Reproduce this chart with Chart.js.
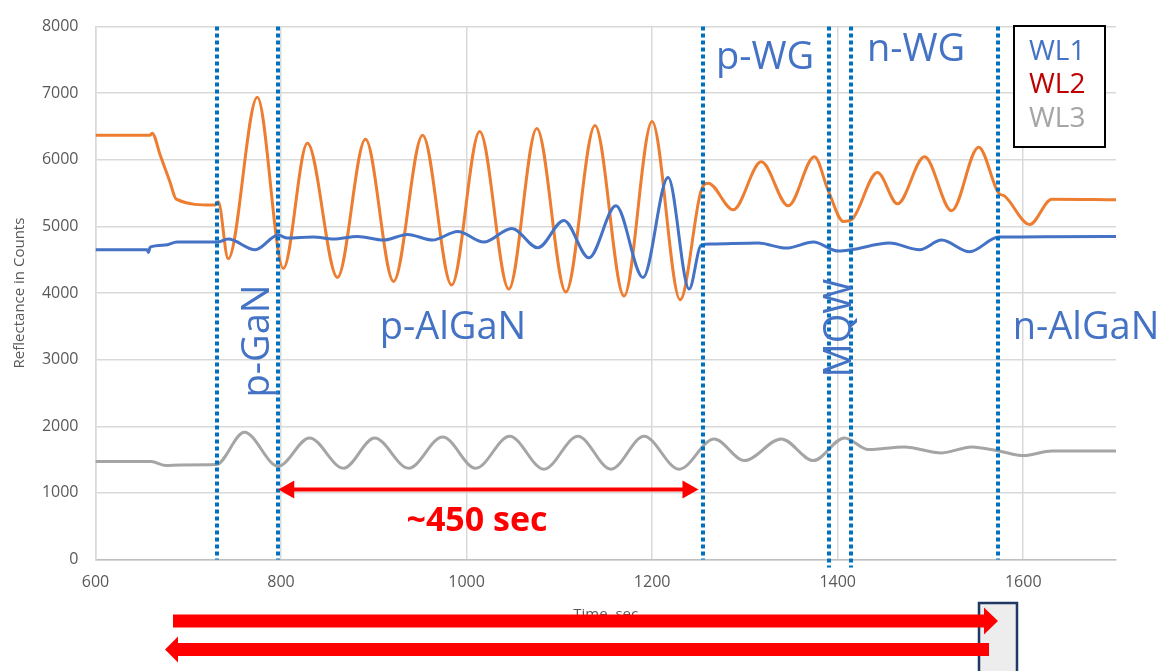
<!DOCTYPE html>
<html><head><meta charset="utf-8">
<script src="https://cdn.jsdelivr.net/npm/chart.js@4/dist/chart.umd.min.js"></script>
<style>html,body{margin:0;padding:0;background:#fff;}#wrap{width:1158px;height:671px;position:relative;}</style>
</head><body><div id="wrap"><canvas id="c" width="1158" height="671"></canvas></div>
<script>
// ---- data (time in sec, reflectance in counts) ----
const wl1Time = [600,655.6,657,658.9,675,688,731.2,743,772.2,797,806.8,834.9,856.5,882.4,910.5,936.4,963.4,990.4,1018.5,1048.7,1076.8,1104.9,1131.9,1161,1190.2,1217.2,1239.9,1252.9,1263.7,1314.4,1344.6,1373.8,1400.8,1414.8,1455.8,1488.2,1512,1542.2,1573.5,1700];
const wl1Values = [4650,4650,4610,4690,4720,4765,4765,4810,4650,4870,4825,4840,4810,4850,4795,4880,4795,4925,4765,4970,4680,5090,4530,5310,4235,5735,4060,4720,4735,4750,4675,4765,4630,4650,4750,4650,4795,4620,4840,4850];

const wl2Time = [600,658.9,661,670,680,687,727,729.6,732.3,743,774.4,802.5,828.4,860.8,891,921.3,952.6,983.9,1014.1,1045.5,1075.7,1107,1138.4,1169.7,1199.9,1230.2,1252.9,1260.4,1287.4,1317.6,1346.8,1374.9,1390,1406.2,1414.8,1442.9,1464.5,1493.6,1522.8,1551.9,1573.5,1580,1607,1630.8,1700];
const wl2Values = [6370,6370,6400,6060,5680,5410,5320,5330,5370,4515,6940,4370,6250,4235,6310,4175,6370,4120,6425,4060,6470,4015,6515,3955,6575,3900,5545,5650,5250,5970,5310,6045,5530,5075,5100,5810,5340,6045,5235,6190,5500,5455,5030,5410,5400];

const wl3Time = [600,660,676,691,730,760.4,797,830.6,867.3,900.8,937.5,974.2,1009.8,1046.5,1083.3,1120,1155.6,1191.3,1229,1266.9,1299.3,1339.2,1373.8,1407.3,1433.2,1472,1512,1544.4,1573.5,1600.5,1630.8,1700];
const wl3Values = [1470,1470,1410,1420,1425,1910,1400,1825,1370,1825,1370,1840,1370,1850,1355,1850,1355,1850,1355,1810,1485,1810,1485,1825,1650,1690,1600,1690,1630,1560,1630,1630];

const seriesNames = ['WL1','WL2','WL3'];
const layerBoundaries = [731.4, 796.2, 1254.4, 1390.5, 1414.8, 1573];
const layerNames = ['p-GaN','p-AlGaN','p-WG','MQW','n-WG','n-AlGaN'];
const xTickValues = [600,800,1000,1200,1400,1600];
const yTickValues = [0,1000,2000,3000,4000,5000,6000,7000,8000];
const spanStart = 797, spanEnd = 1250, spanLevel = 1050;
const spanLabel = '~450 sec';

const toPts = (t, v) => t.map((x, i) => ({x: x, y: v[i]}));
const COLORS = ['#4472C4', '#ED7D31', '#A5A5A5'];
const LEGEND_COLORS = ['#4472C4', '#C00000', '#A5A5A5'];
const FONT = "'Open Sans', 'Noto Sans', sans-serif";

const overlay = {
  id: 'overlay',
  afterDatasetsDraw(chart) {
    const {ctx, chartArea: a} = chart;
    const xs = chart.scales.x, ys = chart.scales.y;
    ctx.save();
    // dotted layer boundaries
    ctx.strokeStyle = '#0070C0';
    ctx.lineWidth = 4;
    ctx.setLineDash([4, 3]);
    layerBoundaries.forEach((b, i) => {
      const px = Math.round(xs.getPixelForValue(b));
      ctx.beginPath();
      ctx.moveTo(px, a.top);
      ctx.lineTo(px, (i === 3 || i === 4) ? a.bottom + 8 : a.bottom);
      ctx.stroke();
    });
    ctx.setLineDash([]);
    // layer names
    ctx.fillStyle = '#4472C4';
    ctx.font = '38px ' + FONT;
    ctx.textAlign = 'center';
    ctx.textBaseline = 'middle';
    const labelPos = [
      {x: 258, y: 341, rot: true},
      {x: 453, y: 328},
      {x: 765, y: 58},
      {x: 840, y: 328, rot: true},
      {x: 916, y: 50},
      {x: 1086, y: 328}
    ];
    layerNames.forEach((n, i) => {
      const p = labelPos[i];
      ctx.save();
      ctx.translate(p.x, p.y);
      if (p.rot) ctx.rotate(-Math.PI / 2);
      ctx.fillText(n, 0, 0);
      ctx.restore();
    });
    // ~450 sec double arrow
    const x1 = xs.getPixelForValue(spanStart), x2 = xs.getPixelForValue(spanEnd), y = ys.getPixelForValue(spanLevel);
    ctx.strokeStyle = '#FF0000'; ctx.fillStyle = '#FF0000'; ctx.lineWidth = 4;
    ctx.beginPath(); ctx.moveTo(x1 + 12, y); ctx.lineTo(x2 - 12, y); ctx.stroke();
    ctx.beginPath(); ctx.moveTo(x1, y); ctx.lineTo(x1 + 16, y - 9); ctx.lineTo(x1 + 16, y + 9); ctx.closePath(); ctx.fill();
    ctx.beginPath(); ctx.moveTo(x2, y); ctx.lineTo(x2 - 16, y - 9); ctx.lineTo(x2 - 16, y + 9); ctx.closePath(); ctx.fill();
    ctx.font = 'bold 34px ' + FONT;
    ctx.fillText(spanLabel, 477, 521);
    // legend box
    ctx.fillStyle = '#FFFFFF';
    ctx.fillRect(1014, 26, 91, 121);
    ctx.strokeStyle = '#000000'; ctx.lineWidth = 2;
    ctx.strokeRect(1014, 26, 91, 121);
    ctx.font = '28px ' + FONT;
    ctx.textAlign = 'left';
    [52, 85, 119].forEach((yy, i) => {
      ctx.fillStyle = LEGEND_COLORS[i];
      ctx.fillText(seriesNames[i], 1029, yy);
    });
    ctx.restore();
  },
  afterDraw(chart) {
    const {ctx} = chart;
    ctx.save();
    // gray box
    ctx.fillStyle = '#EDEDED';
    ctx.fillRect(979, 603, 38, 72);
    ctx.strokeStyle = '#1F3864'; ctx.lineWidth = 2.5;
    ctx.strokeRect(979, 603, 38, 72);
    // bottom arrows
    ctx.fillStyle = '#FF0000';
    ctx.fillRect(173, 614.5, 812, 13);
    ctx.beginPath(); ctx.moveTo(984, 607.5); ctx.lineTo(998, 621); ctx.lineTo(984, 634.5); ctx.closePath(); ctx.fill();
    ctx.fillRect(177, 643, 812, 13);
    ctx.beginPath(); ctx.moveTo(178, 636.5); ctx.lineTo(165, 649.5); ctx.lineTo(178, 662.5); ctx.closePath(); ctx.fill();
    ctx.restore();
  }
};

new Chart(document.getElementById('c'), {
  type: 'line',
  data: {
    datasets: [
      {label: seriesNames[0], data: toPts(wl1Time, wl1Values), borderColor: COLORS[0]},
      {label: seriesNames[1], data: toPts(wl2Time, wl2Values), borderColor: COLORS[1]},
      {label: seriesNames[2], data: toPts(wl3Time, wl3Values), borderColor: COLORS[2]}
    ].map(d => Object.assign(d, {borderWidth: 3, pointRadius: 0, fill: false, cubicInterpolationMode: 'monotone'}))
  },
  options: {
    responsive: false, animation: false, devicePixelRatio: 1,
    layout: {padding: {top: 15, right: 42, left: 0, bottom: 0}},
    plugins: {legend: {display: false}, tooltip: {enabled: false}},
    scales: {
      x: {
        type: 'linear', min: 600, max: 1700,
        afterBuildTicks: s => { s.ticks = xTickValues.map(v => ({value: v})); },
        afterFit: s => { s.height = 111.5; },
        grid: {color: '#D9D9D9', lineWidth: 1.5, drawTicks: false},
        border: {color: '#BFBFBF', width: 1.5},
        ticks: {color: '#595959', font: {family: FONT, size: 16}, padding: 13, maxRotation: 0, callback: v => String(v)},
        title: {display: true, text: 'Time, sec', color: '#595959', font: {family: FONT, size: 15}, padding: {top: 0, bottom: 47}}
      },
      y: {
        min: 0, max: 8000,
        afterBuildTicks: s => { s.ticks = yTickValues.map(v => ({value: v})); },
        afterFit: s => { s.width = 95.5; },
        grid: {color: '#D9D9D9', lineWidth: 1.5, drawTicks: false},
        border: {color: '#D9D9D9', width: 1.5},
        ticks: {color: '#595959', font: {family: FONT, size: 16}, padding: 17, callback: v => String(v)},
        title: {display: true, text: 'Reflectance in Counts', color: '#595959', font: {family: FONT, size: 15}, padding: {top: 11, bottom: 0}}
      }
    }
  },
  plugins: [overlay]
});
</script></body></html>
